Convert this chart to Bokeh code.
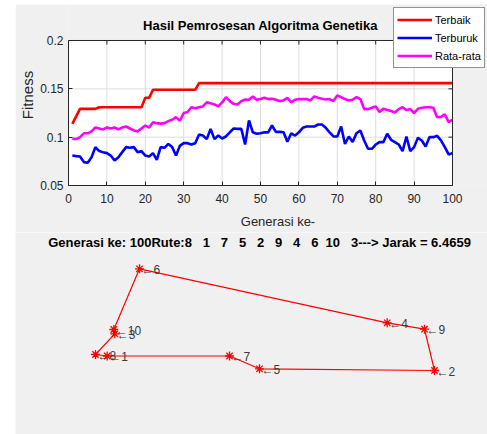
import math
from bokeh.plotting import figure
from bokeh.models import (FixedTicker, CustomJSTickFormatter, Legend, Label,
                          LegendItem, Spacer, ColumnDataSource, Range1d)
from bokeh.layouts import column, row
from bokeh.embed import file_html
from bokeh.resources import INLINE
from bokeh.core.properties import value

# ---------------- data ----------------
generasi = list(range(1, 101))

terbaik = [
    0.1138, 0.1215, 0.1293, 0.1293, 0.1293, 0.1293, 0.1293, 0.1310, 0.1310, 0.1310,
    0.1310, 0.1310, 0.1310, 0.1310, 0.1310, 0.1310, 0.1310, 0.1310, 0.1310, 0.1407,
    0.1407, 0.1490, 0.1490, 0.1490, 0.1490, 0.1490, 0.1490, 0.1490, 0.1490, 0.1490,
    0.1490, 0.1490, 0.1490, 0.1559, 0.1559, 0.1559, 0.1559, 0.1559, 0.1559, 0.1559,
    0.1559, 0.1559, 0.1559, 0.1559, 0.1559, 0.1559, 0.1559, 0.1559, 0.1559, 0.1559,
    0.1559, 0.1559, 0.1559, 0.1559, 0.1559, 0.1559, 0.1559, 0.1559, 0.1559, 0.1559,
    0.1559, 0.1559, 0.1559, 0.1559, 0.1559, 0.1559, 0.1559, 0.1559, 0.1559, 0.1559,
    0.1559, 0.1559, 0.1559, 0.1559, 0.1559, 0.1559, 0.1559, 0.1559, 0.1559, 0.1559,
    0.1559, 0.1559, 0.1559, 0.1559, 0.1559, 0.1559, 0.1559, 0.1559, 0.1559, 0.1559,
    0.1559, 0.1559, 0.1559, 0.1559, 0.1559, 0.1559, 0.1559, 0.1559, 0.1559, 0.1559,
]

terburuk = [
    0.0810, 0.0804, 0.0800, 0.0742, 0.0735, 0.0793, 0.0897, 0.0856, 0.0845, 0.0835,
    0.0810, 0.0759, 0.0793, 0.0845, 0.0897, 0.0890, 0.0897, 0.0845, 0.0856, 0.0810,
    0.0800, 0.0835, 0.0766, 0.0897, 0.0890, 0.0930, 0.0897, 0.0810, 0.0910, 0.0938,
    0.0938, 0.0924, 0.0938, 0.1028, 0.1017, 0.0980, 0.1086, 0.0980, 0.1017, 0.0986,
    0.1007, 0.1050, 0.1090, 0.1086, 0.1086, 0.0924, 0.1173, 0.1050, 0.1035, 0.1040,
    0.1050, 0.1050, 0.1121, 0.1055, 0.1055, 0.1050, 0.0952, 0.1040, 0.1017, 0.1050,
    0.1097, 0.1110, 0.1110, 0.1110, 0.1131, 0.1131, 0.1097, 0.1050, 0.1007, 0.1007,
    0.1110, 0.0930, 0.1007, 0.0949, 0.1040, 0.1069, 0.0966, 0.0880, 0.0880, 0.0924,
    0.0949, 0.0949, 0.1035, 0.0973, 0.0949, 0.0924, 0.0856, 0.1007, 0.0856, 0.0897,
    0.0993, 0.0966, 0.0904, 0.1000, 0.1000, 0.1014, 0.0966, 0.0897, 0.0821, 0.0835,
]

rata_rata = [
    0.0983, 0.0980, 0.1000, 0.1040, 0.1040, 0.1060, 0.1100, 0.1090, 0.1080, 0.1100,
    0.1090, 0.1100, 0.1080, 0.1100, 0.1110, 0.1090, 0.1070, 0.1060, 0.1090, 0.1120,
    0.1100, 0.1155, 0.1145, 0.1140, 0.1145, 0.1166, 0.1180, 0.1207, 0.1170, 0.1250,
    0.1260, 0.1310, 0.1300, 0.1310, 0.1318, 0.1360, 0.1350, 0.1338, 0.1318, 0.1360,
    0.1414, 0.1373, 0.1345, 0.1338, 0.1373, 0.1390, 0.1387, 0.1421, 0.1387, 0.1394,
    0.1407, 0.1394, 0.1397, 0.1387, 0.1373, 0.1380, 0.1407, 0.1360, 0.1387, 0.1394,
    0.1394, 0.1394, 0.1380, 0.1421, 0.1407, 0.1397, 0.1390, 0.1394, 0.1373, 0.1431,
    0.1414, 0.1394, 0.1380, 0.1387, 0.1414, 0.1394, 0.1290, 0.1290, 0.1304, 0.1318,
    0.1260, 0.1293, 0.1280, 0.1270, 0.1255, 0.1290, 0.1310, 0.1280, 0.1290, 0.1250,
    0.1293, 0.1304, 0.1310, 0.1310, 0.1304, 0.1207, 0.1210, 0.1235, 0.1155, 0.1180,
]

x_ticks = [0, 10, 20, 30, 40, 50, 60, 70, 80, 90, 100]
y_ticks = [0.05, 0.1, 0.15, 0.2]

# cities 1..10
kota_id = [1, 2, 3, 4, 5, 6, 7, 8, 9, 10]
kota_x = [0.467, 3.74, 0.543, 3.267, 1.99, 0.79, 1.69, 0.35, 3.64, 0.533]
kota_y = [0.445, 0.30, 0.667, 0.777, 0.317, 1.317, 0.445, 0.46, 0.713, 0.71]
rute = [8, 1, 7, 5, 2, 9, 4, 6, 10, 3]
jarak = "6.4659"

FONT = "Liberation Sans"
DARK = "#262626"
BG = "#f0f0f0"
NB = "\u00a0"

x0, x1 = x_ticks[0], x_ticks[-1]
y0, y1 = y_ticks[0], y_ticks[-1]

# ---------------- top plot ----------------
# frame covers the axes box plus the area of the legend/title (gray outside the box)
p1 = figure(width=472, height=228, x_range=Range1d(0, 109.115), y_range=Range1d(0.05, 0.23724),
            output_backend="svg", toolbar_location=None, frame_align=False,
            min_border_left=53, min_border_right=0, min_border_top=0, min_border_bottom=47,
            background_fill_color=BG, border_fill_color=BG, outline_line_color=None)

p1.quad(left=x0, right=x1, bottom=y0, top=y1, fill_color="white", line_color=None, level="image")
p1.grid.visible = False
p1.segment(x0=x_ticks[1:-1], y0=[y0] * (len(x_ticks) - 2), x1=x_ticks[1:-1], y1=[y1] * (len(x_ticks) - 2),
           line_color="#dedede", line_width=1, level="underlay")
p1.segment(x0=[x0] * (len(y_ticks) - 2), y0=y_ticks[1:-1], x1=[x1] * (len(y_ticks) - 2), y1=y_ticks[1:-1],
           line_color="#dedede", line_width=1, level="underlay")

src = ColumnDataSource(dict(g=generasi, b=terbaik, w=terburuk, r=rata_rata))
r_b = p1.line("g", "b", source=src, line_color="#ff0000", line_width=2.6)
r_w = p1.line("g", "w", source=src, line_color="#0000ff", line_width=2.6)
r_r = p1.line("g", "r", source=src, line_color="#ff00ff", line_width=2.6)

# box outline and inward ticks on top / right
p1.quad(left=x0, right=x1, bottom=y0, top=y1, fill_color=None, line_color=DARK, line_width=1)
p1.ray(x=x_ticks[1:-1], y=[y1] * (len(x_ticks) - 2), length=4, length_units="screen",
       angle=-math.pi / 2, line_color=DARK, line_width=1)
p1.ray(x=[x1] * (len(y_ticks) - 2), y=y_ticks[1:-1], length=4, length_units="screen",
       angle=math.pi, line_color=DARK, line_width=1)

p1.xaxis.ticker = FixedTicker(ticks=x_ticks)
p1.yaxis.ticker = FixedTicker(ticks=y_ticks)
p1.xaxis.bounds = (x0, x1)
p1.yaxis.bounds = (y0, y1)
p1.yaxis.formatter = CustomJSTickFormatter(code="return String(Math.round(tick*100)/100);")
for ax in (p1.xaxis[0], p1.yaxis[0]):
    ax.major_tick_in = 4
    ax.major_tick_out = 0
    ax.minor_tick_line_color = None
    ax.axis_line_color = DARK
    ax.major_tick_line_color = DARK
    ax.major_label_text_font = FONT
    ax.major_label_text_font_size = "12px"
    ax.major_label_text_color = DARK
    ax.axis_label_text_font = FONT
    ax.axis_label_text_font_style = "normal"
    ax.axis_label_text_color = DARK
p1.xaxis.axis_label = "Generasi ke-"
p1.xaxis.axis_label_text_font_size = "13px"
p1.xaxis.major_label_standoff = 8
p1.xaxis.axis_label_standoff = 8
p1.yaxis.axis_label = "Fitness"
p1.yaxis.axis_label_text_font_size = "15px"
p1.yaxis.major_label_standoff = 5
p1.yaxis.axis_label_standoff = 1

p1.add_layout(Label(x=50, y=0.2150, text="Hasil Pemrosesan Algoritma Genetika",
                    text_align="center", text_baseline="middle", text_font=FONT,
                    text_font_size="13px", text_font_style="bold", text_color="black"))

legend = Legend(items=[LegendItem(label="Terbaik", renderers=[r_b]),
                       LegendItem(label="Terburuk", renderers=[r_w]),
                       LegendItem(label="Rata-rata", renderers=[r_r])],
                location=(325, 117), orientation="vertical",
                background_fill_color="white", background_fill_alpha=1,
                border_line_color=DARK, border_line_width=1,
                label_text_font=FONT, label_text_font_size="11px", label_text_color="black",
                glyph_width=35, glyph_height=17, label_height=17, label_standoff=3,
                padding=3, spacing=1, margin=0)
p1.add_layout(legend)

# ---------------- route plot ----------------
judul = ("Generasi ke: 100Rute:8" + NB * 3 + "1" + NB * 3 + "7" + NB * 3 + "5" + NB * 3 + "2"
         + NB * 3 + "9" + NB * 3 + "4" + NB * 3 + "6" + NB * 2 + "10" + NB * 3 + "3---> Jarak = " + jarak)
p2 = figure(width=472, height=202, x_range=Range1d(-0.45, 4.27), y_range=Range1d(-0.34, 1.68),
            output_backend="svg", toolbar_location=None, frame_align=False,
            min_border_left=0, min_border_right=0, min_border_top=0, min_border_bottom=0,
            background_fill_color=BG, border_fill_color=BG, outline_line_color=None)
p2.axis.visible = False
p2.grid.visible = False
p2.add_layout(Label(x=1.99, y=1.58, text=judul, text_align="center", text_baseline="middle",
                    text_font=FONT, text_font_size="13px", text_font_style="bold", text_color="black"))

rx = [kota_x[k - 1] for k in rute] + [kota_x[rute[0] - 1]]
ry = [kota_y[k - 1] for k in rute] + [kota_y[rute[0] - 1]]
p2.line(rx, ry, line_color="#ff0000", line_width=1.2)
ksrc = ColumnDataSource(dict(x=kota_x, y=kota_y, lab=["\u2190" + str(k) for k in kota_id]))
p2.scatter("x", "y", source=ksrc, marker="asterisk", size=9, line_color="#ff0000", line_width=1.3)
p2.text("x", "y", text="lab", source=ksrc, x_offset=2, y_offset=1, text_baseline="middle",
        text_align="left", text_font=value(FONT), text_font_size="12px", text_color="#3a3a3a")

layout = row(Spacer(width=15, height=434), column(Spacer(width=472, height=4), p1, p2))
open("out.html", "w").write(file_html(layout, INLINE))
